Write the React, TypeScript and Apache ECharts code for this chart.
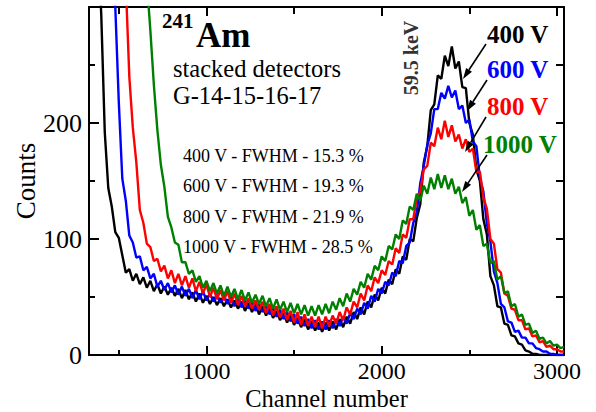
import React, { useEffect, useRef } from "react";
import * as echarts from "echarts";

// Channel grid (x values of the spectra)
const channels = [
  340, 360, 380, 400, 420, 440, 460, 480, 500, 520,
  540, 560, 580, 600, 620, 640, 660, 680, 700, 720,
  740, 760, 780, 800, 820, 840, 860, 880, 900, 920,
  940, 960, 980, 1000, 1020, 1040, 1060, 1080, 1100, 1120,
  1140, 1160, 1180, 1200, 1220, 1240, 1260, 1280, 1300, 1320,
  1340, 1360, 1380, 1400, 1420, 1440, 1460, 1480, 1500, 1520,
  1540, 1560, 1580, 1600, 1620, 1640, 1660, 1680, 1700, 1720,
  1740, 1760, 1780, 1800, 1820, 1840, 1860, 1880, 1900, 1920,
  1940, 1960, 1980, 2000, 2020, 2040, 2060, 2080, 2100, 2120,
  2140, 2160, 2180, 2200, 2220, 2240, 2260, 2280, 2300, 2320,
  2340, 2360, 2380, 2400, 2420, 2440, 2460, 2480, 2500, 2520,
  2540, 2560, 2580, 2600, 2620, 2640, 2660, 2680, 2700, 2720,
  2740, 2760, 2780, 2800, 2820, 2840, 2860, 2880, 2900, 2920,
  2940, 2960, 2980, 3000, 3020, 3040,
];

// 400 V spectrum
const counts400 = [
  500, 420, 362, 293, 192, 144, 128, 106, 101, 86,
  71, 74, 64, 70, 61, 67, 58, 64, 55, 61,
  53, 59, 52, 58, 51, 57, 49, 56, 48, 54,
  46, 53, 45, 51, 44, 50, 43, 49, 42, 48,
  41, 47, 40, 46, 38, 45, 37, 44, 35, 42,
  34, 40, 32, 38, 30, 36, 28, 35, 26, 32,
  24, 31, 22, 29, 21, 28, 20, 28, 21, 29,
  22, 31, 24, 33, 27, 37, 31, 41, 35, 46,
  41, 52, 47, 58, 53, 65, 61, 74, 70, 85,
  82, 100, 98, 118, 130, 166, 180, 211, 216, 241,
  238, 258, 249, 266, 247, 253, 231, 230, 200, 190,
  160, 150, 117, 104, 68, 60, 42, 41, 27, 26,
  17, 16, 10, 9, 4, 3, 1, 1, 0, 0,
  0, 0, 0, 0, 0, 0,
];

// 600 V spectrum
const counts600 = [
  700, 650, 600, 540, 480, 420, 372, 300, 218, 152,
  133, 103, 97, 84, 85, 73, 76, 66, 70, 59,
  64, 56, 62, 54, 60, 52, 59, 51, 57, 49,
  56, 48, 55, 47, 53, 46, 52, 45, 51, 44,
  50, 42, 49, 41, 48, 40, 46, 38, 44, 37,
  43, 35, 41, 33, 39, 31, 37, 29, 35, 27,
  33, 25, 31, 23, 30, 22, 29, 22, 30, 23,
  31, 25, 33, 27, 36, 31, 40, 35, 45, 40,
  51, 46, 57, 53, 63, 60, 71, 68, 81, 79,
  94, 97, 114, 123, 148, 163, 181, 191, 212, 212,
  226, 221, 232, 222, 228, 212, 215, 200, 203, 184,
  180, 153, 141, 113, 98, 72, 62, 44, 41, 29,
  28, 20, 21, 15, 15, 10, 10, 6, 5, 3,
  3, 1, 1, 0, 0, 0,
];

// 800 V spectrum
const counts800 = [
  800, 760, 720, 680, 640, 600, 560, 510, 460, 400,
  320, 240, 196, 166, 125, 114, 96, 93, 81, 83,
  72, 77, 66, 73, 62, 70, 60, 68, 58, 66,
  55, 63, 53, 61, 50, 58, 48, 56, 47, 55,
  45, 53, 43, 51, 42, 49, 40, 47, 39, 46,
  36, 44, 34, 42, 32, 40, 30, 38, 28, 37,
  26, 35, 25, 33, 24, 33, 23, 33, 25, 34,
  27, 37, 30, 41, 35, 46, 41, 53, 47, 60,
  55, 67, 62, 73, 69, 81, 78, 92, 88, 104,
  101, 117, 117, 135, 141, 160, 163, 183, 180, 196,
  186, 202, 188, 198, 184, 190, 178, 186, 175, 178,
  158, 158, 136, 126, 100, 96, 74, 71, 53, 51,
  40, 39, 30, 30, 22, 23, 16, 17, 11, 12,
  7, 8, 5, 5, 3, 3,
];

// 1000 V spectrum
const counts1000 = [
  900, 880, 860, 840, 820, 800, 770, 740, 700, 660,
  610, 560, 500, 440, 400, 368, 322, 280, 233, 194,
  164, 145, 119, 110, 97, 95, 80, 80, 70, 73,
  63, 68, 58, 64, 55, 62, 53, 60, 51, 59,
  50, 57, 48, 56, 47, 54, 45, 52, 44, 51,
  42, 49, 40, 48, 39, 46, 37, 45, 36, 44,
  35, 43, 34, 42, 34, 43, 35, 44, 36, 46,
  39, 49, 42, 53, 46, 57, 52, 63, 58, 70,
  65, 77, 73, 85, 81, 94, 91, 104, 100, 116,
  113, 128, 125, 139, 133, 146, 139, 153, 143, 156,
  144, 155, 143, 152, 139, 145, 131, 136, 120, 125,
  108, 112, 94, 96, 79, 81, 65, 68, 53, 55,
  42, 44, 33, 35, 26, 27, 19, 21, 14, 15,
  10, 12, 8, 9, 6, 7,
];

const seriesNames = ["400 V", "600 V", "800 V", "1000 V"];
const seriesColors = ["#000000", "#0000ff", "#ff0000", "#008000"];
const xMajorTicks = [1000, 2000, 3000];
const xMinorTicks = [500, 1500, 2500];
const fwhmLabels = [
  "400 V - FWHM - 15.3 %",
  "600 V - FWHM - 19.3 %",
  "800 V - FWHM - 21.9 %",
  "1000 V - FWHM - 28.5 %",
];
const isotopeMass = "241";
const isotopeSymbol = "Am";
const subtitleLines = ["stacked detectors", "G-14-15-16-17"];
const peakLabel = "59.5 keV";

const serif = "'Liberation Serif', 'Times New Roman', serif";

function txt(
  text: string,
  x: number,
  y: number,
  size: number,
  opts: { bold?: boolean; color?: string; align?: string; rotation?: number; lineHeight?: number } = {}
) {
  return {
    type: "text",
    x,
    y,
    rotation: opts.rotation || 0,
    z: 100,
    style: {
      text,
      fontSize: size,
      fontFamily: serif,
      fontWeight: opts.bold ? "bold" : "normal",
      fill: opts.color || "#000",
      lineHeight: opts.lineHeight || size,
      align: opts.align || "left",
      textAlign: opts.align || "left",
      verticalAlign: "middle",
      textVerticalAlign: "middle",
    },
  };
}

function arrow(x1: number, y1: number, x2: number, y2: number) {
  const dx = x2 - x1;
  const dy = y2 - y1;
  const L = Math.hypot(dx, dy);
  const ux = dx / L;
  const uy = dy / L;
  const hl = 11;
  const hw = 3.5;
  const bx = x2 - ux * hl;
  const by = y2 - uy * hl;
  return [
    {
      type: "line",
      z: 100,
      shape: { x1, y1, x2: bx, y2: by },
      style: { stroke: "#000", lineWidth: 1.6 },
    },
    {
      type: "polygon",
      z: 100,
      shape: {
        points: [
          [x2, y2],
          [bx - uy * hw, by + ux * hw],
          [bx + uy * hw, by - ux * hw],
        ],
      },
      style: { fill: "#000" },
    },
  ];
}

export default function App() {
  const ref = useRef<HTMLDivElement>(null);

  useEffect(() => {
    if (!ref.current) return;
    const chart = echarts.init(ref.current, null, { renderer: "svg" });
    const allCounts = [counts400, counts600, counts800, counts1000];

    const gridRect = { left: 89, right: 32, top: 7, bottom: 57, containLabel: false, outerBoundsMode: "none" };
    const xMin = 330;
    const xMax = 3040;
    const tickStyle = { color: "#000", width: 2 };
    const axisLineStyle = { color: "#000", width: 2 };

    const voltageLabelPos = [
      [487, 34.5],
      [487, 69.5],
      [487, 106.5],
      [483, 144.5],
    ];
    const arrows = [
      [486, 44, 463, 79],
      [487, 80, 467, 111],
      [486, 117, 465, 152],
      [487, 155, 462, 192],
    ];
    const fwhmY = [155.5, 185.7, 217, 247];

    const graphic: any[] = [
      txt(isotopeMass, 162, 20.5, 21, { bold: true }),
      txt(isotopeSymbol, 196, 35.5, 35, { bold: true, lineHeight: 28 }),
      txt(subtitleLines[0], 173, 68, 24.5, { lineHeight: 22 }),
      txt(subtitleLines[1], 173, 95, 24.5, { lineHeight: 22 }),
      txt(peakLabel, 411, 58, 20, { bold: true, color: "#333", align: "center", rotation: Math.PI / 2 }),
    ];
    fwhmLabels.forEach((t, i) => graphic.push(txt(t, 183, fwhmY[i], 18)));
    seriesNames.forEach((t, i) =>
      graphic.push(txt(t, voltageLabelPos[i][0], voltageLabelPos[i][1], 25, { bold: true, color: seriesColors[i], lineHeight: 22 }))
    );
    arrows.forEach((a) => graphic.push(...arrow(a[0], a[1], a[2], a[3])));

    const option: any = {
      animation: false,
      backgroundColor: "#ffffff",
      grid: [{ ...gridRect }, { ...gridRect }],
      xAxis: [
        {
          gridIndex: 0,
          type: "value",
          position: "bottom",
          min: xMin,
          max: xMax,
          name: "Channel number",
          nameLocation: "middle",
          nameGap: 30.75,
          nameMoveOverlap: false,
          nameTextStyle: { fontSize: 24.5, fontFamily: serif, color: "#000" },
          axisLine: { show: true, onZero: false, lineStyle: axisLineStyle },
          axisTick: { show: true, inside: true, length: 9, customValues: xMajorTicks, lineStyle: tickStyle },
          axisLabel: {
            show: true,
            customValues: xMajorTicks,
            formatter: (v: number) => String(v),
            fontSize: 24,
            fontFamily: serif,
            color: "#000",
            margin: 4,
          },
          splitLine: { show: false },
        },
        {
          gridIndex: 0,
          type: "value",
          position: "top",
          min: xMin,
          max: xMax,
          axisLine: { show: true, onZero: false, lineStyle: axisLineStyle },
          axisTick: { show: true, inside: true, length: 9, customValues: xMajorTicks, lineStyle: tickStyle },
          axisLabel: { show: false },
          splitLine: { show: false },
        },
        {
          gridIndex: 1,
          type: "value",
          position: "bottom",
          min: xMin,
          max: xMax,
          axisLine: { show: false, onZero: false },
          axisTick: { show: true, inside: true, length: 5, customValues: xMinorTicks, lineStyle: tickStyle },
          axisLabel: { show: false },
          splitLine: { show: false },
        },
        {
          gridIndex: 1,
          type: "value",
          position: "top",
          min: xMin,
          max: xMax,
          axisLine: { show: false, onZero: false },
          axisTick: { show: true, inside: true, length: 7, customValues: xMinorTicks, lineStyle: tickStyle },
          axisLabel: { show: false },
          splitLine: { show: false },
        },
      ],
      yAxis: [
        {
          gridIndex: 0,
          type: "value",
          position: "left",
          min: 0,
          max: 300,
          interval: 100,
          name: "Counts",
          nameLocation: "middle",
          nameRotate: 90,
          nameGap: 50,
          nameMoveOverlap: false,
          nameTextStyle: { fontSize: 27, fontFamily: serif, color: "#000" },
          axisLine: { show: true, onZero: false, lineStyle: axisLineStyle },
          axisTick: { show: true, inside: true, length: 10, lineStyle: tickStyle },
          minorTick: { show: true, splitNumber: 2, length: 6, lineStyle: tickStyle },
          axisLabel: {
            show: true,
            showMaxLabel: false,
            fontSize: 26,
            fontFamily: serif,
            color: "#000",
            margin: 7,
          },
          splitLine: { show: false },
          minorSplitLine: { show: false },
        },
        {
          gridIndex: 0,
          type: "value",
          position: "right",
          min: 0,
          max: 300,
          interval: 50,
          axisLine: { show: true, onZero: false, lineStyle: axisLineStyle },
          axisTick: { show: true, inside: true, length: 8, lineStyle: tickStyle },
          axisLabel: { show: false },
          splitLine: { show: false },
        },
        {
          gridIndex: 1,
          type: "value",
          min: 0,
          max: 300,
          show: false,
          splitLine: { show: false },
        },
      ],
      series: allCounts.map((vals, si) => ({
        name: seriesNames[si],
        type: "line",
        xAxisIndex: 0,
        yAxisIndex: 0,
        showSymbol: false,
        symbol: "none",
        clip: true,
        data: channels.map((c, i) => [c, vals[i]]),
        lineStyle: { color: seriesColors[si], width: 2.4, join: "bevel" },
        itemStyle: { color: seriesColors[si] },
        z: 2 + si,
      })),
      graphic,
    };

    chart.setOption(option);
    return () => chart.dispose();
  }, []);

  return (
    <div
      ref={ref}
      style={{ position: "fixed", left: 0, top: 0, width: 596, height: 412, background: "#fff" }}
    />
  );
}
